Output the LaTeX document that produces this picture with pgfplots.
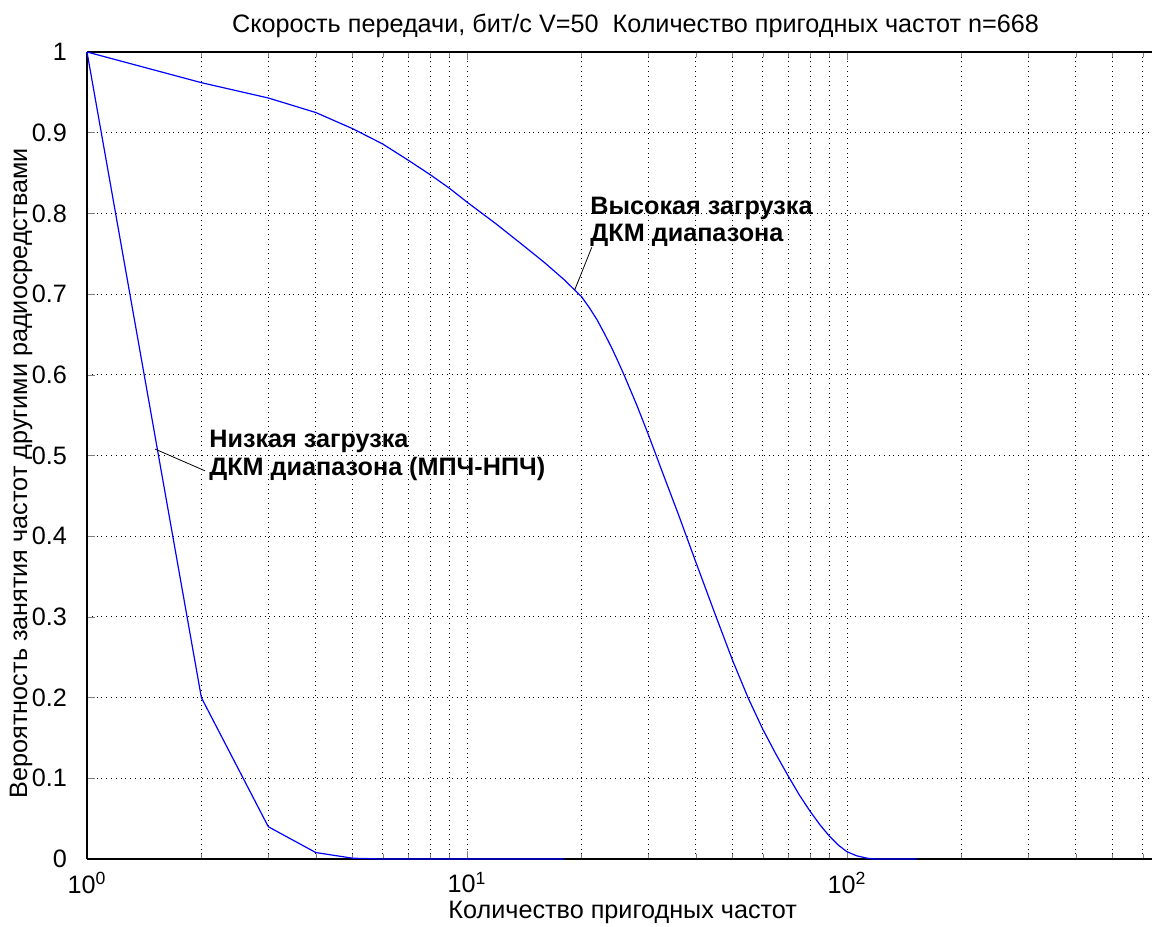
\documentclass[border=0pt]{standalone}
\usepackage{pgfplots}
\pgfplotsset{compat=1.18}
\usepackage{fontspec}
\setmainfont{Liberation Sans}
\begin{document}
\begin{tikzpicture}
\begin{semilogxaxis}[
  name=ax,
  scale only axis,
  width=532.5pt, height=403.5pt,
  xmin=1, xmax=634.8,
  ymin=0, ymax=1,
  axis x line=box, axis y line=left,
  axis line style={-, line width=0.6pt},
  tick align=inside,
  xtick pos=both, ytick pos=left,
  xtick={1,10,100},
  xticklabels={10\textsuperscript{0},10\textsuperscript{1},10\textsuperscript{2}},
  minor xtick={2,3,4,5,6,7,8,9,20,30,40,50,60,70,80,90,200,300,400,500,600},
  ytick={0,0.1,...,1.0},
  yticklabels={0,0.1,0.2,0.3,0.4,0.5,0.6,0.7,0.8,0.9,1},
  major tick length=4pt, minor tick length=2.5pt,
  grid=both,
  major grid style={black, dotted, line width=0.5pt},
  minor grid style={black, dotted, line width=0.5pt},
  font=\fontsize{12.6}{15}\selectfont,
  every tick label/.append style={font=\fontsize{12.6}{15}\selectfont},
  /pgf/number format/assume math mode=true,
  yticklabel style={xshift=-6.5pt},
  xticklabel style={yshift=-3pt},
  title={Скорость передачи, бит/с V=50\ \ Количество пригодных частот n=668},
  title style={at={(axis description cs:0.515,1)}, anchor=center, yshift=7pt, font=\fontsize{12.6}{15}\selectfont},
  xlabel={Количество пригодных частот},
  xlabel style={at={(axis description cs:0.503,0)}, anchor=center, yshift=-26.5pt},
  ylabel={Вероятность занятия частот другими радиосредствами},
  ylabel style={at={(axis description cs:-0.062,0.478)}, anchor=center},
  clip=false,
]
\addplot[blue, line width=0.6pt] coordinates {
(1,1.0) (2,0.2) (3,0.04) (4,0.008) (5,0.001) (6,0) (18,0)
};
\addplot[blue, line width=0.6pt] coordinates {
(1,1.0) (2,0.962) (3,0.943) (4,0.925) (5,0.905) (6,0.886) (7,0.866) (8,0.848)
(9,0.831) (10,0.814) (12,0.786) (14,0.761) (16,0.739) (18,0.718) (20,0.697)
(21,0.683) (22,0.668) (23,0.651) (24,0.634) (25,0.616) (26,0.598) (28,0.562)
(30,0.526) (33,0.474) (36,0.427) (40,0.368) (45,0.303) (50,0.246) (55,0.199)
(60,0.161) (65,0.13) (70,0.103) (75,0.079) (80,0.059) (85,0.042) (90,0.028)
(95,0.017) (100,0.009) (106,0.004) (113,0.001) (118,0) (153,0)
};
\draw[black, line width=0.4pt] (axis cs:19.2,0.705) -- (axis cs:21.3,0.758);
\node[anchor=north west, inner sep=0pt, align=left, font=\bfseries\fontsize{12.6}{13.5}\selectfont]
  at (axis cs:21.08,0.82) {Высокая загрузка\\ ДКМ диапазона};
\draw[black, line width=0.4pt] (axis cs:1.51,0.508) -- (axis cs:2.045,0.481);
\node[anchor=north west, inner sep=0pt, align=left, font=\bfseries\fontsize{12.6}{14}\selectfont]
  at (axis cs:2.094,0.532) {Низкая загрузка\\ДКМ диапазона (МПЧ-НПЧ)};
\end{semilogxaxis}
\pgfresetboundingbox
\path[use as bounding box] ([xshift=-43.5pt,yshift=-33.5pt]ax.south west) rectangle ([yshift=26pt]ax.north east);
\end{tikzpicture}
\end{document}
